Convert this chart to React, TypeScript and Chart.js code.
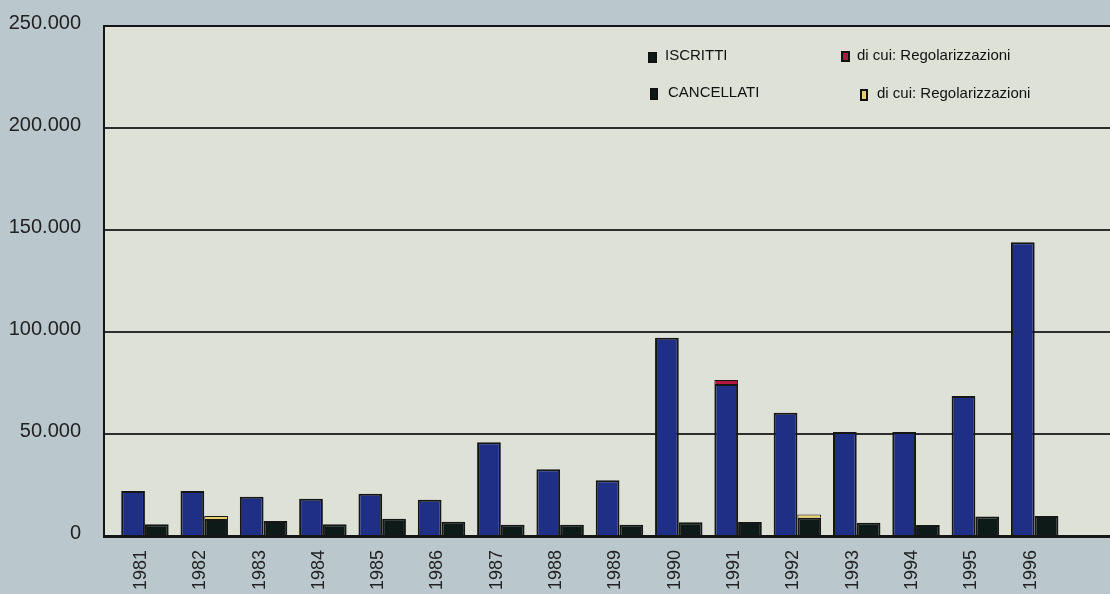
import React, { useEffect, useRef } from "react";
import { Chart, registerables } from "chart.js";

Chart.register(...registerables);

const years = [1981, 1982, 1983, 1984, 1985, 1986, 1987, 1988, 1989, 1990, 1991, 1992, 1993, 1994, 1995, 1996];
const iscritti = [22000, 22000, 19300, 18300, 20700, 17800, 46000, 32700, 27300, 97200, 74500, 60400, 51000, 51000, 68600, 144000];
const iscrittiReg = [null, null, null, null, null, null, null, null, null, null, 2000, null, null, null, null, null];
const cancellati = [5700, 8300, 7300, 5700, 8500, 7000, 5500, 5500, 5500, 6700, 6900, 9000, 6500, 5400, 9500, 9800];
const cancellatiReg = [null, 1500, null, null, null, null, null, null, null, null, null, 1600, null, null, null, null];
const yTicks = [0, 50000, 100000, 150000, 200000, 250000];
const legendLabels = ["ISCRITTI", "di cui: Regolarizzazioni", "CANCELLATI", "di cui: Regolarizzazioni"];

const OUTER_BG = "#bac7cc";
const PLOT_BG = "#dde1d6";
const BLUE = "#1f2f86";
const DARK = "#0e1a17";
const RED = "#b3173f";
const YELLOW = "#e6cf68";
const LINE = "#161616";

function fmt(v: number): string {
  const s = String(Math.round(v));
  return s.replace(/\B(?=(\d{3})+(?!\d))/g, ".");
}

const bgPlugin = {
  id: "bgPlugin",
  beforeDraw(chart: any) {
    const { ctx, chartArea, width, height } = chart;
    ctx.save();
    ctx.fillStyle = OUTER_BG;
    ctx.fillRect(0, 0, width, height);
    ctx.fillStyle = PLOT_BG;
    ctx.fillRect(chartArea.left, chartArea.top, chartArea.right - chartArea.left, chartArea.bottom - chartArea.top);
    ctx.restore();
  },
};

const legendPlugin = {
  id: "customLegend",
  afterDraw(chart: any) {
    const { ctx } = chart;
    ctx.save();
    ctx.font = "15px 'Liberation Sans', Arial, sans-serif";
    ctx.textBaseline = "middle";
    ctx.fillStyle = "#111";
    const items = [
      { mx: 648, my: 52, mw: 9, mh: 11, fill: DARK, tx: 665, ty: 56, text: legendLabels[0] },
      { mx: 841, my: 51, mw: 9, mh: 11, fill: RED, tx: 857, ty: 56, text: legendLabels[1] },
      { mx: 650, my: 88, mw: 8, mh: 12, fill: DARK, tx: 668, ty: 93, text: legendLabels[2] },
      { mx: 860, my: 89, mw: 8, mh: 12, fill: YELLOW, tx: 877, ty: 94, text: legendLabels[3] },
    ];
    for (const it of items) {
      ctx.fillStyle = it.fill;
      ctx.fillRect(it.mx, it.my, it.mw, it.mh);
      ctx.strokeStyle = "#111";
      ctx.lineWidth = 2;
      ctx.strokeRect(it.mx + 1, it.my + 1, it.mw - 2, it.mh - 2);
      ctx.fillStyle = "#111";
      ctx.fillText(it.text, it.tx, it.ty);
    }
    ctx.restore();
  },
};

export default function App() {
  const ref = useRef<HTMLCanvasElement | null>(null);

  useEffect(() => {
    if (!ref.current) return;
    const pts = (arr: (number | null)[]) => years.map((yr, i) => ({ x: yr, y: arr[i] }));
    const chart = new Chart(ref.current, {
      type: "bar",
      data: {
        datasets: [
          { label: legendLabels[0], data: pts(iscritti) as any, backgroundColor: BLUE, borderColor: LINE, borderWidth: 2, borderSkipped: "bottom", stack: "a", categoryPercentage: 0.8, barPercentage: 1.0 },
          { label: legendLabels[1], data: pts(iscrittiReg) as any, backgroundColor: RED, borderColor: LINE, borderWidth: 1, borderSkipped: "bottom", stack: "a", categoryPercentage: 0.8, barPercentage: 1.0 },
          { label: legendLabels[2], data: pts(cancellati) as any, backgroundColor: DARK, borderColor: LINE, borderWidth: 2, borderSkipped: "bottom", stack: "b", categoryPercentage: 0.8, barPercentage: 1.0 },
          { label: legendLabels[3], data: pts(cancellatiReg) as any, backgroundColor: YELLOW, borderColor: LINE, borderWidth: 1, borderSkipped: "bottom", stack: "b", categoryPercentage: 0.8, barPercentage: 1.0 },
        ] as any,
      },
      options: {
        animation: false,
        responsive: false,
        maintainAspectRatio: false,
        layout: { padding: { top: 26, right: 0, left: 0, bottom: 0 } },
        plugins: { legend: { display: false }, tooltip: { enabled: false } },
        scales: {
          x: {
            type: "linear",
            stacked: true,
            offset: false,
            min: years[0] - 0.69,
            max: years[years.length - 1] + 1.27,
            afterFit: (s: any) => { s.height = 58; s.paddingLeft = 0; s.paddingRight = 0; },
            afterBuildTicks: (s: any) => { s.ticks = years.map((v) => ({ value: v })); },
            ticks: {
              autoSkip: false,
              maxRotation: 90,
              minRotation: 90,
              padding: 14,
              labelOffset: -4,
              color: "#222",
              font: { family: "'Liberation Sans', Arial, sans-serif", size: 18 },
              callback: (v: any) => String(v),
            },
            grid: { display: false, drawTicks: false },
            border: { display: true, color: LINE, width: 3, z: 1 },
          },
          y: {
            type: "linear",
            stacked: true,
            min: 0,
            max: 250000,
            afterFit: (s: any) => { s.width = 104; s.paddingTop = 0; s.paddingBottom = 0; },
            afterBuildTicks: (s: any) => { s.ticks = yTicks.map((v) => ({ value: v })); },
            ticks: {
              padding: 23,
              labelOffset: -3,
              color: "#222",
              font: { family: "'Liberation Sans', Arial, sans-serif", size: 20 },
              callback: (v: any) => fmt(Number(v)),
            },
            grid: {
              drawTicks: false,
              lineWidth: 2,
              color: (c: any) => (c.tick && c.tick.value === 0 ? "rgba(0,0,0,0)" : c.tick && c.tick.value === 250000 ? LINE : "#2e2e2e"),
            },
            border: { display: true, color: LINE, width: 2 },
          },
        },
      } as any,
      plugins: [bgPlugin, legendPlugin],
    });
    return () => chart.destroy();
  }, []);

  return (
    <div style={{ position: "absolute", left: 0, top: 0, width: 1110, height: 594 }}>
      <canvas ref={ref} width={1110} height={594} style={{ display: "block", width: 1110, height: 594 }} />
    </div>
  );
}
